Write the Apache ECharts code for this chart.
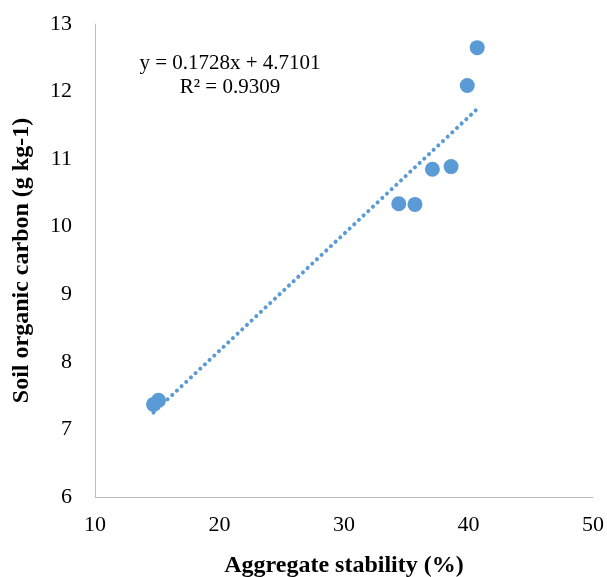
<!DOCTYPE html>
<html>
<head>
<meta charset="utf-8">
<script src="https://cdn.jsdelivr.net/npm/echarts@6/dist/echarts.min.js"></script>
<style>
  html, body { margin: 0; padding: 0; background: #fff; }
  #chart { width: 607px; height: 577px; }
</style>
</head>
<body>
<div id="chart"></div>
<script>
// 数据：团聚体稳定性 vs 土壤有机碳
let stability = [14.7, 15.1, 34.4, 35.7, 37.1, 38.6, 39.9, 40.7];
let carbon = [7.37, 7.43, 10.34, 10.33, 10.85, 10.89, 12.09, 12.65];
// 趋势线系数 (图上的公式)
let slope = 0.1728;
let intercept = 4.7101;
let r2 = 0.9309;
let xTicks = [10, 20, 30, 40, 50];
let yTicks = [6, 7, 8, 9, 10, 11, 12, 13];

let blue = '#5B9BD5';
let font = '"Liberation Serif", "Times New Roman", serif';

let points = stability.map((x, i) => [x, carbon[i]]);
let xMin = Math.min.apply(null, stability);
let xMax = Math.max.apply(null, stability);
let trend = [[xMin, slope * xMin + intercept], [xMax, slope * xMax + intercept]];

let chart = echarts.init(document.getElementById('chart'));
let option = {
    backgroundColor: '#fff',
    animation: false,
    grid: {
        left: 95,
        right: 14,
        top: 24,
        bottom: 80,
        containLabel: false,
        outerBoundsMode: 'none'
    },
    xAxis: {
        type: 'value',
        min: xTicks[0],
        max: xTicks[xTicks.length - 1],
        interval: 10,
        name: 'Aggregate stability (%)',
        nameLocation: 'middle',
        nameGap: 57,
        nameTextStyle: {
            fontFamily: font,
            fontWeight: 'bold',
            fontSize: 24,
            color: '#000'
        },
        axisLine: { show: true, lineStyle: { color: '#BFBFBF', width: 1 } },
        axisTick: { show: false },
        splitLine: { show: false },
        axisLabel: {
            margin: 17,
            fontFamily: font,
            fontSize: 22,
            color: '#000'
        }
    },
    yAxis: {
        type: 'value',
        min: yTicks[0],
        max: yTicks[yTicks.length - 1],
        interval: 1,
        name: 'Soil organic carbon (g kg-1)',
        nameLocation: 'middle',
        nameGap: 61,
        nameTextStyle: {
            fontFamily: font,
            fontWeight: 'bold',
            fontSize: 24,
            color: '#000'
        },
        axisLine: { show: true, lineStyle: { color: '#BFBFBF', width: 1 } },
        axisTick: { show: false },
        splitLine: { show: false },
        axisLabel: {
            margin: 23,
            fontFamily: font,
            fontSize: 22,
            color: '#000'
        }
    },
    graphic: [
        {
            type: 'text',
            x: 230,
            y: 63,
            style: {
                text: 'y = ' + slope + 'x + ' + intercept,
                textAlign: 'center',
                textVerticalAlign: 'middle',
                fontFamily: font,
                fontSize: 21,
                fill: '#000'
            }
        },
        {
            type: 'text',
            x: 230,
            y: 87,
            style: {
                text: 'R² = ' + r2,
                textAlign: 'center',
                textVerticalAlign: 'middle',
                fontFamily: font,
                fontSize: 21,
                fill: '#000'
            }
        }
    ],
    series: [
        {
            name: 'SOC',
            type: 'scatter',
            data: points,
            symbolSize: 15,
            itemStyle: { color: blue, opacity: 1 }
        },
        {
            name: 'trend',
            type: 'line',
            data: trend,
            showSymbol: false,
            silent: true,
            lineStyle: {
                color: blue,
                width: 4,
                type: [0.1, 6.3],
                cap: 'round'
            },
            z: 3
        }
    ]
};
chart.setOption(option);
window.addEventListener('resize', function(){
    chart.resize();
});
</script>
</body>
</html>
